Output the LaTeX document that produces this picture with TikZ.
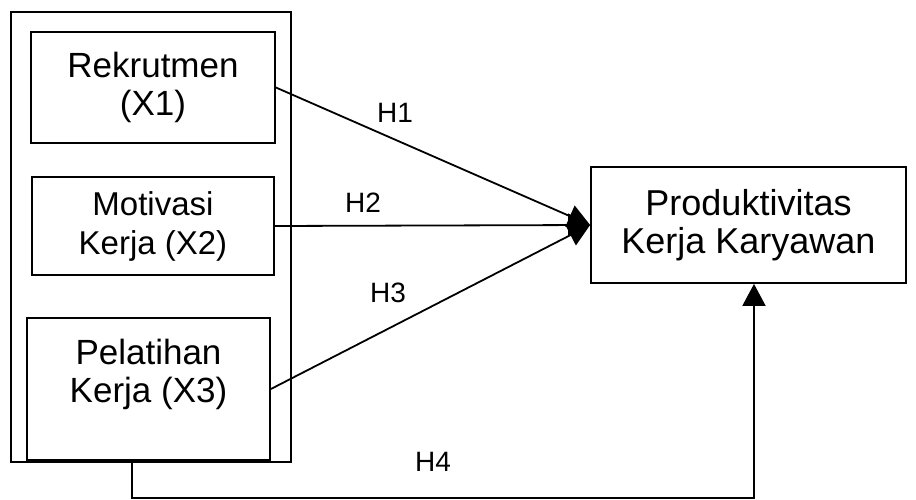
\documentclass[tikz,border=0pt]{standalone}
\usepackage{fontspec}
\setmainfont{Liberation Sans}
\usetikzlibrary{arrows.meta}
\begin{document}
\begin{tikzpicture}[x=1pt,y=-1pt,line width=1.8pt,
  box/.style={draw, align=center, font=\fontsize{35}{38}\selectfont},
  hlab/.style={font=\fontsize{28}{32}\selectfont},
  arr/.style={-{Triangle[length=22pt,width=23pt]}}]
\useasboundingbox (0,0) rectangle (916,500);
\node[draw, minimum width=280pt, minimum height=450pt] (grp) at (151,237) {};
\node[box, minimum width=244pt, minimum height=111pt] (x1) at (153,87.5) {Rekrutmen\\(X1)};
\node[box, minimum width=242pt, minimum height=98pt, font=\fontsize{33}{39}\selectfont] (x2) at (153,226) {Motivasi\\Kerja (X2)};
\node[box, minimum width=243pt, minimum height=142pt] (x3) at (148.5,389) {};
\node[box, draw=none] (x3t) at (148.5,374) {Pelatihan\\Kerja (X3)};
\node[box, minimum width=315pt, minimum height=116pt, font=\fontsize{36}{38}\selectfont] (y) at (748.5,225) {Produktivitas\\Kerja Karyawan};
\draw[arr] (x1.east) -- (y.west);
\draw[arr] (x2.east) -- (y.west);
\draw[arr] (x3.east) -- (y.west);
\coordinate (h4a) at (132,460);
\coordinate (h4b) at (754,498);
\draw[arr] (h4a) |- (h4b) -- (h4b |- y.south);
\node[hlab] (h1) at (395,113) {H1};
\node[hlab] (h2) at (363,203) {H2};
\node[hlab] (h3) at (388,293) {H3};
\node[hlab] (h4) at (433,462) {H4};
\end{tikzpicture}
\end{document}
